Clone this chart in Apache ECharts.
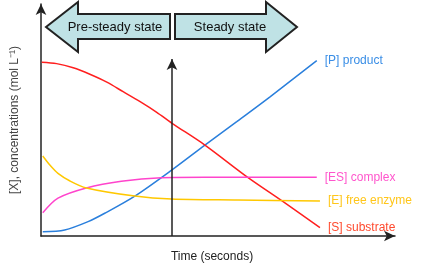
<!DOCTYPE html>
<html>
<head>
<meta charset="utf-8">
<script src="https://cdn.jsdelivr.net/npm/echarts@6/dist/echarts.min.js"></script>
<style>html,body{margin:0;padding:0;background:#fff}#c{width:444px;height:270px}</style>
</head>
<body>
<div id="c"></div>
<script>
// Values (x: time units 0-100, y: concentration 0-100)
const productData = [[0.5,1.8],[6.7,2.6],[13.3,6.2],[18.0,9.8],[26.5,17.2],[36.9,28.4],[46.3,39.2],[55.3,49.3],[64.7,60.0],[77.9,75.6]];
const substrateData = [[0.2,74.9],[4.4,74.3],[9.1,72.5],[13.8,69.7],[18.6,66.3],[23.2,62.2],[28.0,57.9],[32.7,53.3],[36.9,48.7],[46.3,39.2],[58.1,25.6],[68.4,14.8],[78.8,3.6]];
const complexData = [[0.5,10.0],[4.8,16.3],[12.8,20.7],[22.7,23.6],[34.0,25.1],[46.2,25.3],[77.9,25.3]];
const enzymeData = [[0.5,34.5],[2.5,30.6],[4.8,27.0],[8.2,23.7],[12.8,20.7],[26.5,17.2],[36.9,15.9],[55.6,15.5],[78.8,15.1]];
const seriesNames = ['[P] product','[S] substrate','[ES] complex','[E] free enzyme'];
const steadyStateTime = 37;
const markerTop = 76.3;
const phaseLabels = ['Pre-steady state','Steady state'];
const axisTitles = ['Time (seconds)','[X], concentrations (mol L\u207B\u00B9)'];

const lineColors = ['#2a7fdc','#ff1f1f','#ff44cc','#ffc800'];
const labelColors = ['#3a8ee6','#ff4a2e','#ff55cc','#ffc61a'];
const F = 'Liberation Sans, Arial, sans-serif';

function mk(name, data, i, extra) {
  return Object.assign({
    name: name, type: 'line', data: data, smooth: 0.3,
    showSymbol: false, symbol: 'none',
    lineStyle: {color: lineColors[i], width: 1.5},
    endLabel: {show: true, formatter: name, color: labelColors[i], fontSize: 12, fontFamily: F, distance: 8},
    z: 3
  }, extra || {});
}

const chart = echarts.init(document.getElementById('c'), null, {renderer: 'canvas'});
const fill = '#bfe2e5';
chart.setOption({
  animation: false,
  grid: {left: 41, right: 49, top: 4, bottom: 34, containLabel: false, outerBoundsMode: 'none'},
  xAxis: {
    type: 'value', min: 0, max: 100,
    name: axisTitles[0], nameLocation: 'middle', nameGap: 15,
    nameTextStyle: {color: '#222', fontSize: 12, fontFamily: F, padding: [0, 12, 0, 0]},
    axisLine: {show: true, onZero: false, symbol: ['none','arrow'], symbolSize: [8, 11], lineStyle: {color: '#222', width: 1.5}},
    axisTick: {show: false}, axisLabel: {show: false}, splitLine: {show: false}
  },
  yAxis: {
    type: 'value', min: 0, max: 100,
    name: axisTitles[1], nameLocation: 'middle', nameGap: 20, nameRotate: 90,
    nameTextStyle: {color: '#444', fontSize: 12, fontFamily: F},
    axisLine: {show: true, onZero: false, symbol: ['none','arrow'], symbolSize: [8, 11], lineStyle: {color: '#222', width: 1.5}},
    axisTick: {show: false}, axisLabel: {show: false}, splitLine: {show: false}
  },
  series: [
    mk(seriesNames[0], productData, 0, {
      markLine: {
        silent: true, symbol: ['none','arrow'], symbolSize: [8, 11],
        lineStyle: {color: '#222', width: 1.5, type: 'solid'}, label: {show: false},
        data: [[{coord: [steadyStateTime, 0]}, {coord: [steadyStateTime, markerTop]}]]
      }
    }),
    mk(seriesNames[1], substrateData, 1),
    mk(seriesNames[2], complexData, 2),
    mk(seriesNames[3], enzymeData, 3)
  ],
  graphic: [
    {type: 'polygon', shape: {points: [[46,27],[78,2],[78,14],[170,14],[170,39],[78,39],[78,52]]},
     style: {fill: fill, stroke: '#222', lineWidth: 2}},
    {type: 'polygon', shape: {points: [[175,14],[266,14],[266,2],[297,27],[266,52],[266,39],[175,39]]},
     style: {fill: fill, stroke: '#222', lineWidth: 2}},
    {type: 'text', x: 115, y: 27, style: {text: phaseLabels[0], fill: '#111', font: '13px ' + F, align: 'center', verticalAlign: 'middle'}},
    {type: 'text', x: 230, y: 27, style: {text: phaseLabels[1], fill: '#111', font: '13px ' + F, align: 'center', verticalAlign: 'middle'}}
  ]
});
</script>
</body>
</html>
